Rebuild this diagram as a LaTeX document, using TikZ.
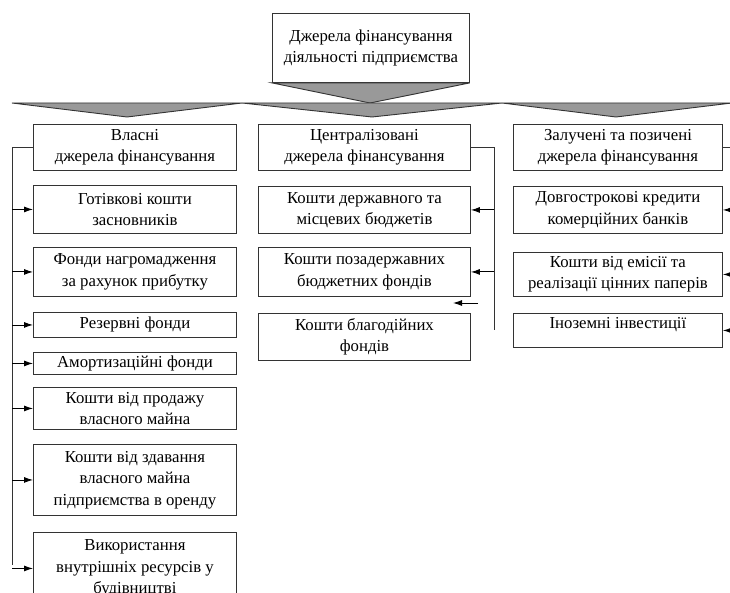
\documentclass[tikz,border=0pt]{standalone}
\usepackage{fontspec}
\setmainfont{Liberation Serif}
\usetikzlibrary{arrows.meta}

\tikzset{
	srcbox/.style = {draw = black!80, line width = 0.9pt, fill = white, align = center, anchor = north west, inner sep = 2pt, font = \fontsize{16.75}{21.5}\selectfont},
	arr/.style = {-{Latex[length = 9pt, width = 6pt]}, line width = 0.9pt},
	wedge/.style = {draw = black!80, line width = 0.9pt, fill = black!40},
	bus/.style = {draw = black!80, line width = 0.9pt}
}

\begin{document}
\begin{tikzpicture}[x = 1pt, y = -1pt]
	\useasboundingbox (0,0) rectangle (730,593);
	\clip (0,0) rectangle (730,593);
	\node[srcbox, minimum width = 197pt, minimum height = 69pt] (top) at (272,13) {Джерела фінансування\\діяльності підприємства};
	\filldraw[wedge] (top.south west) -- (top.south east) -- (370,103) -- cycle;
	\filldraw[wedge] (12,103) -- (242,103) -- (127,117) -- cycle;
	\filldraw[wedge] (242,103) -- (502,103) -- (372,117) -- cycle;
	\filldraw[wedge] (502,103) -- (732,103) -- (616,117) -- cycle;
	\node[srcbox, minimum width = 203pt, minimum height = 46pt] (own) at (33,124) {Власні\\джерела фінансування};
	\node[srcbox, minimum width = 212pt, minimum height = 46pt] (central) at (258,124) {Централізовані\\джерела фінансування};
	\node[srcbox, minimum width = 209pt, minimum height = 46pt] (borrowed) at (513,124) {Залучені та позичені\\джерела фінансування};
	\node[srcbox, minimum width = 203pt, minimum height = 48pt] (own1) at (33,185) {Готівкові кошти\\засновників};
	\node[srcbox, minimum width = 203pt, minimum height = 49pt] (own2) at (33,247) {Фонди нагромадження\\за рахунок прибутку};
	\node[srcbox, minimum width = 203pt, minimum height = 25pt] (own3) at (33,312) {Резервні фонди};
	\node[srcbox, minimum width = 203pt, minimum height = 22pt] (own4) at (33,352) {Амортизаційні фонди};
	\node[srcbox, minimum width = 203pt, minimum height = 42pt] (own5) at (33,387) {Кошти від продажу\\власного майна};
	\node[srcbox, minimum width = 203pt, minimum height = 71pt] (own6) at (33,444) {Кошти від здавання\\власного майна\\підприємства в оренду};
	\node[srcbox, minimum width = 203pt, minimum height = 72pt] (own7) at (33,532) {Використання\\внутрішніх ресурсів у\\будівництві};
	\node[srcbox, minimum width = 212pt, minimum height = 47pt] (central1) at (258,186) {Кошти державного та\\місцевих бюджетів};
	\node[srcbox, minimum width = 212pt, minimum height = 49pt] (central2) at (258,247) {Кошти позадержавних\\бюджетних фондів};
	\node[srcbox, minimum width = 212pt, minimum height = 47pt] (central3) at (258,313) {Кошти благодійних\\фондів};
	\node[srcbox, minimum width = 209pt, minimum height = 47pt] (borrowed1) at (513,186) {Довгострокові кредити\\комерційних банків};
	\node[srcbox, minimum width = 209pt, minimum height = 44pt] (borrowed2) at (513,252) {Кошти від емісії та\\реалізації цінних паперів};
	\node[srcbox, minimum width = 209pt, minimum height = 34pt, text depth = 14pt] (borrowed3) at (513,313) {Іноземні інвестиції};
	\coordinate (lbus) at (12,565);
	\coordinate (cbus) at (494,330);
	\coordinate (rbus) at (745,330);
	\coordinate (strayA) at (478,303);
	\coordinate (strayB) at (453,303);
	\draw[bus] (own.west) -| (lbus);
	\foreach \n in {own1, own2, own3, own4, own5, own6, own7}
		\draw[arr] (\n.west -| lbus) -- (\n.west);
	\draw[bus] (central.east) -| (cbus);
	\foreach \n in {central1, central2}
		\draw[arr] (\n.east -| cbus) -- (\n.east);
	\draw[arr] (strayA) -- (strayB);
	\draw[bus] (borrowed.east) -| (rbus);
	\foreach \n in {borrowed1, borrowed2, borrowed3}
		\draw[arr] (\n.east -| rbus) -- (\n.east);
\end{tikzpicture}
\end{document}
